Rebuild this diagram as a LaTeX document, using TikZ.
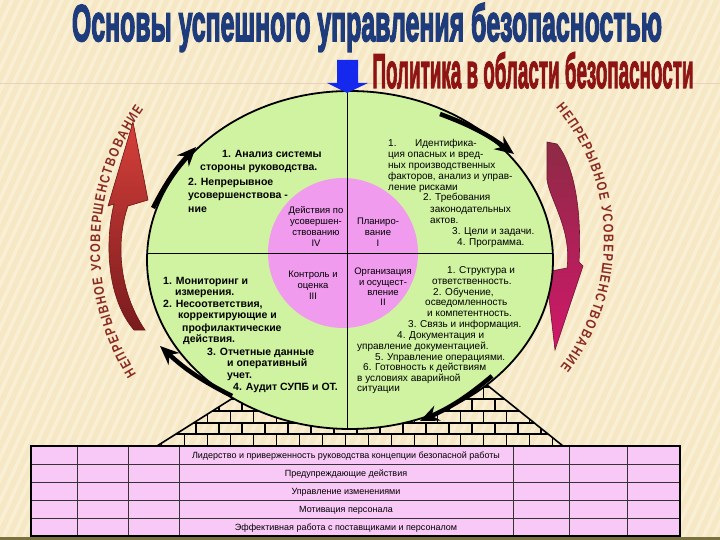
\documentclass[tikz,border=0pt]{standalone}
\usepackage{fontspec}
\setmainfont{Liberation Sans}
\newfontfamily\arcfam{Liberation Sans}[FakeStretch=0.8]
\usetikzlibrary{decorations.text,arrows.meta,calc}
\definecolor{bgc}{HTML}{F6E8C5}
\definecolor{stripec}{HTML}{FBF2DC}
\definecolor{egreen}{HTML}{CFF3A0}
\definecolor{cpink}{HTML}{F19BEF}
\definecolor{tpink}{HTML}{F8C9F6}
\definecolor{navy}{HTML}{1E3C7C}
\definecolor{subred}{HTML}{8E1414}
\definecolor{arcred}{HTML}{8A2B22}
\definecolor{arrblue}{HTML}{1428EE}
\definecolor{redA}{HTML}{D6403A}
\definecolor{redB}{HTML}{7A1B1E}
\definecolor{redE}{HTML}{6B1515}
\definecolor{magA}{HTML}{8E2A45}
\definecolor{magB}{HTML}{D0186A}
\definecolor{magE}{HTML}{6B1530}
\definecolor{olivebar}{HTML}{7A7040}
\newcommand{\heavyon}[1]{\special{pdf:literal direct 2 Tr #1 w}}
\newcommand{\heavyoff}{\special{pdf:literal direct 0 Tr 0.4 w}}
\newcommand{\titlebox}{\resizebox{590pt}{38pt}{\fontsize{24}{24}\selectfont\bfseries\heavyon{0.9}Основы успешного управления безопасностью\heavyoff}}
\newcommand{\subbox}{\resizebox{321pt}{36pt}{\fontsize{24}{24}\selectfont\bfseries\heavyon{0.7}Политика в области безопасности\heavyoff}}
\newcommand{\arcfont}{\arcfam\bfseries\fontsize{14}{14}\selectfont}
\tikzset{
 qb/.style={font=\bfseries\fontsize{10.5}{12}\selectfont, anchor=base west, inner sep=0pt},
 qr/.style={font=\fontsize{10}{12}\selectfont, anchor=base west, inner sep=0pt},
 qc/.style={font=\fontsize{9.5}{11}\selectfont, anchor=base, inner sep=0pt},
 trow/.style={font=\fontsize{9}{10}\selectfont, anchor=base, inner sep=0pt},
 blackarrow/.style={line width=4.5pt, -{Stealth[length=19pt,width=16pt]}},
 brick/.style={line width=1.6pt, black},
 tline/.style={line width=0.7pt, black!80},
}
\begin{document}
\begin{tikzpicture}[x=1pt,y=-1pt]
\useasboundingbox (0,0) rectangle (720,540);
% background
\fill[bgc] (0,0) rectangle (720,540);
\foreach \i in {-300,-290,...,720} \fill[stripec,opacity=0.7] (\i,540) -- ++(4,0) -- ++(250,-540) -- ++(-4,0) -- cycle;
\draw[line width=0.8pt, color=brown!35] (0,83) -- (720,83);
\fill[olivebar] (0,537) rectangle (720,540);

% arc texts
\path[decorate, decoration={text along path, text align=fit to path, text color=arcred,
  text={|\arcfont|НЕПРЕРЫВНОЕ УСОВЕРШЕНСТВОВАНИЕ}}]
  ($(340,247)+(148:240)$) arc[start angle=148, end angle=215, radius=240];
\path[decorate, decoration={text along path, text align=fit to path, text color=arcred,
  text={|\arcfont|НЕПРЕРЫВНОЕ УСОВЕРШЕНСТВОВАНИЕ}}]
  ($(398,240)+(-40:206)$) arc[start angle=-40, end angle=38, radius=206];

% red curved arrows
\shadedraw[top color=redA, bottom color=redB, draw=redE, line width=0.6pt]
  (134,330) .. controls (108,300) and (104,245) .. (114,204)
  -- (108,206) -- (133,122) -- (148,200) -- (128,206)
  .. controls (116,240) and (118,290) .. (145,330) -- cycle;
\shadedraw[top color=magA, bottom color=magB, draw=magE, line width=0.6pt]
  (547,142) -- (557,144) .. controls (574,165) and (582,210) .. (579,262)
  -- (583,266) -- (555,350) -- (546,272) -- (567,268)
  .. controls (572,230) and (550,200) .. (547,180) -- cycle;

% bricks
\begin{scope}
\clip (157,446) -- (233,398) -- (233,370) -- (487,370) -- (487,385) -- (563,446) -- cycle;
\foreach \yy in {387,399,411,423,434} \draw[brick] (150,\yy) -- (570,\yy);
\foreach \ya/\yb/\off in {375/387/0,387/399/11.5,399/411/0,411/423/11.5,423/434/0,434/446/11.5}
  \foreach \k in {0,...,19} \draw[brick] ({150+\off+23*\k},\ya) -- ({150+\off+23*\k},\yb);
\end{scope}
\draw[brick] (157,446) -- (233,398);
\draw[brick] (563,446) -- (487,385);

% main ellipse and inner circle
\draw[line width=1.8pt, fill=egreen] (350,260) ellipse [x radius=203, y radius=169];
\fill[cpink] (343,253) circle [radius=75];
\draw[line width=1pt] (347,91) -- (347,429);
\draw[line width=1pt] (147.3,253) -- (552.7,253);

% black arrows (clockwise around the ellipse)
\coordinate (a1s) at (153,208); \coordinate (a1e) at (196,147);
\coordinate (a2s) at (440,114); \coordinate (a2e) at (514,154);
\coordinate (a3s) at (492,376); \coordinate (a3e) at (420,421);
\coordinate (a4s) at (232,396); \coordinate (a4e) at (160,346);
\draw[blackarrow] (a1s) to[bend left=8] (a1e);
\draw[blackarrow] (a2s) to[bend left=8] (a2e);
\draw[blackarrow] (a3s) to[bend left=8] (a3e);
\draw[blackarrow] (a4s) to[bend left=8] (a4e);

% upper-left quadrant
\node[qb] (ul1) at (222,158) {1. Анализ системы};
\node[qb] (ul2) at (200,171) {стороны руководства.};
\node[qb] (ul3) at (188,186) {2. Непрерывное};
\node[qb] (ul4) at (188,199) {усовершенствова -};
\node[qb] (ul5) at (188,212) {ние};

% inner circle
\node[qc] (c41) at (316,214) {Действия по};
\node[qc] (c42) at (316,225) {усовершен-};
\node[qc] (c43) at (316,236) {ствованию};
\node[qc] (c44) at (316,247) {IV};
\node[qc] (c11) at (378,225) {Планиро-};
\node[qc] (c12) at (378,236) {вание};
\node[qc] (c13) at (378,247) {I};
\node[qc] (c31) at (313,277) {Контроль и};
\node[qc] (c32) at (313,288) {оценка};
\node[qc] (c33) at (313,299) {III};
\node[qc] (c21) at (383,274) {Организация};
\node[qc] (c22) at (383,285) {и осущест-};
\node[qc] (c23) at (383,295) {вление};
\node[qc] (c24) at (383,305) {II};

% upper-right quadrant
\node[qr] (ur0) at (388,147) {1.};
\node[qr] (ur1) at (415,147) {Идентифика-};
\node[qr] (ur2) at (388,158) {ция опасных и вред-};
\node[qr] (ur3) at (388,169) {ных производственных};
\node[qr] (ur4) at (388,180) {факторов, анализ и управ-};
\node[qr] (ur5) at (388,191) {ление рисками};
\node[qr] (ur6) at (423,201) {2. Требования};
\node[qr] (ur7) at (430,212) {законодательных};
\node[qr] (ur8) at (430,223) {актов.};
\node[qr] (ur9) at (452,234) {3. Цели и задачи.};
\node[qr] (ur10) at (457,245) {4. Программа.};

% lower-left quadrant
\node[qb] (ll1) at (163,284) {1. Мониторинг и};
\node[qb] (ll2) at (175,295) {измерения.};
\node[qb] (ll3) at (163,307) {2. Несоответствия,};
\node[qb] (ll4) at (178,318) {корректирующие и};
\node[qb] (ll5) at (182,331) {профилактические};
\node[qb] (ll6) at (183,342) {действия.};
\node[qb] (ll7) at (207,355) {3. Отчетные данные};
\node[qb] (ll8) at (227,366) {и оперативный};
\node[qb] (ll9) at (227,378) {учет.};
\node[qb] (ll10) at (233,390) {4. Аудит СУПБ и ОТ.};

% lower-right quadrant
\node[qr] (lr1) at (447,273) {1. Структура и};
\node[qr] (lr2) at (432,284) {ответственность.};
\node[qr] (lr3) at (433,295) {2. Обучение,};
\node[qr] (lr4) at (425,305) {осведомленность};
\node[qr] (lr5) at (427,316) {и компетентность.};
\node[qr] (lr6) at (408,327) {3. Связь и информация.};
\node[qr] (lr7) at (397,338) {4. Документация и};
\node[qr] (lr8) at (357,349) {управление документацией.};
\node[qr] (lr9) at (375,360) {5. Управление операциями.};
\node[qr] (lr10) at (363,370) {6. Готовность к действиям};
\node[qr] (lr11) at (357,381) {в условиях аварийной};
\node[qr] (lr12) at (357,391) {ситуации};

% table
\fill[tpink] (31,446) rectangle (680,536);
\foreach \yy in {464,482,500,518} \draw[tline] (31,\yy) -- (680,\yy);
\foreach \xx in {77,128,179,513,569,627} \draw[tline] (\xx,446) -- (\xx,536);
\draw[line width=1.6pt] (31,446) rectangle (680,536);
\node[trow] (t1) at (346,458.5) {Лидерство и приверженность руководства концепции безопасной работы};
\node[trow] (t2) at (346,476.5) {Предупреждающие действия};
\node[trow] (t3) at (346,494.5) {Управление изменениями};
\node[trow] (t4) at (346,512.5) {Мотивация персонала};
\node[trow] (t5) at (346,530.5) {Эффективная работа с поставщиками и персоналом};

% blue arrow
\fill[arrblue] (337,60) -- (358,60) -- (358,83) -- (368,83) -- (347,93) -- (327,83) -- (337,83) -- cycle;

% titles
\node[anchor=base, inner sep=0, text=subred] (subtitle) at (533,88) {\subbox};
\node[anchor=base, inner sep=0, text=navy] (title) at (367,41) {\titlebox};
\end{tikzpicture}
\end{document}
